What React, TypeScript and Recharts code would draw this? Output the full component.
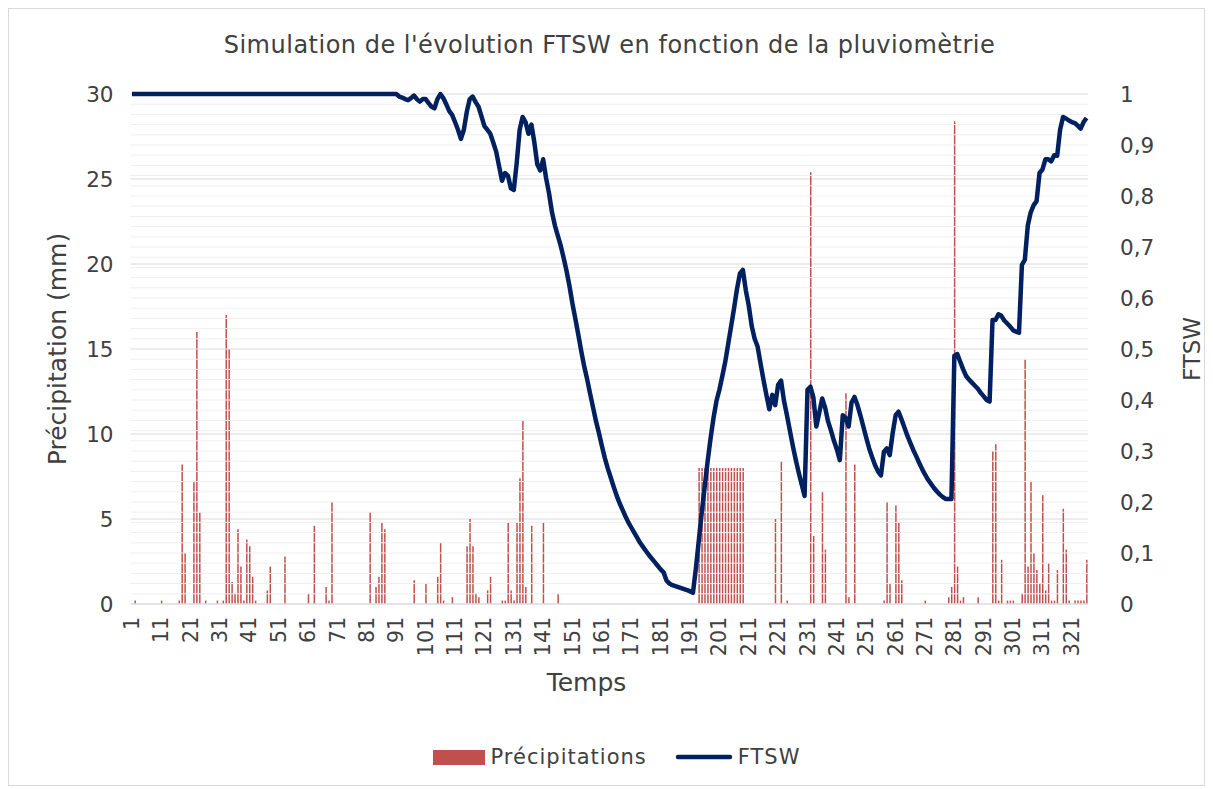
import React from 'react';
import { ComposedChart, Bar, Line, XAxis, YAxis, CartesianGrid, ReferenceLine, Legend, Label } from 'recharts';

const FONT = '"DejaVu Sans", sans-serif';
const TEXT = '#404040';
const RAIN_COLOR = '#C0504D';
const FTSW_COLOR = '#002060';

const N_DAYS = 326;

// days with rain (mm), everything else is 0
const rainDays = [
    2, 11, 17, 18, 19, 22, 23, 24, 26, 30, 32, 33, 34, 35, 36, 37, 38, 39, 40, 41, 42, 43, 47, 48, 53,
    61, 63, 67, 68, 69, 82, 84, 85, 86, 87, 97, 101, 105, 106, 107, 110, 115, 116, 117, 118, 119,
    122, 123, 127, 128, 129, 130, 131, 132, 133, 134, 135, 137, 141, 146,
    194, 195, 196, 197, 198, 199, 200, 201, 202, 203, 204, 205, 206, 207, 208, 209,
    220, 222, 224, 232, 233, 236, 237, 244, 245, 247, 257, 258, 259, 261, 262, 263, 271,
    279, 280, 281, 282, 283, 284, 289, 294, 295, 296, 297, 299, 300, 301, 304, 305, 306, 307,
    308, 309, 310, 311, 312, 313, 314, 315, 316, 318, 319, 320, 322, 323, 324, 325, 326,
];
const rainMm = [
    0.2, 0.2, 0.2, 8.2, 3.0, 7.2, 16.0, 5.4, 0.2, 0.2, 0.2, 17.0, 15.0, 1.3, 0.6, 4.4, 2.2, 0.2, 3.8, 3.4, 1.6, 0.2, 0.8, 2.2, 2.8,
    0.6, 4.6, 1.0, 0.2, 6.0, 5.4, 1.0, 1.6, 4.8, 4.4, 1.4, 1.2, 1.6, 3.6, 0.2, 0.4, 3.4, 5.0, 3.4, 0.6, 0.4,
    0.8, 1.6, 0.2, 0.2, 4.8, 0.8, 0.2, 4.8, 7.4, 10.8, 1.0, 4.6, 4.8, 0.6,
    8, 8, 8, 8, 8, 8, 8, 8, 8, 8, 8, 8, 8, 8, 8, 8,
    5.0, 8.4, 0.2, 25.4, 4.0, 6.6, 3.2, 12.4, 0.4, 8.2, 0.2, 6.0, 1.2, 5.8, 4.8, 1.4, 0.2,
    0.4, 1.0, 28.4, 2.2, 0.2, 0.4, 0.4, 9.0, 9.4, 0.2, 2.6, 0.2, 0.2, 0.2, 0.6, 14.4, 2.2, 7.2,
    3.0, 2.0, 1.2, 6.4, 0.8, 2.4, 0.2, 0.2, 2.0, 5.6, 3.2, 0.2, 0.2, 0.2, 0.2, 0.2, 2.6,
];

// FTSW, one value per day (rows of 10 days)
const ftsw = [
    1, 1, 1, 1, 1, 1, 1, 1, 1, 1,
    1, 1, 1, 1, 1, 1, 1, 1, 1, 1,
    1, 1, 1, 1, 1, 1, 1, 1, 1, 1,
    1, 1, 1, 1, 1, 1, 1, 1, 1, 1,
    1, 1, 1, 1, 1, 1, 1, 1, 1, 1,
    1, 1, 1, 1, 1, 1, 1, 1, 1, 1,
    1, 1, 1, 1, 1, 1, 1, 1, 1, 1,
    1, 1, 1, 1, 1, 1, 1, 1, 1, 1,
    1, 1, 1, 1, 1, 1, 1, 1, 1, 1,
    1, 0.995, 0.993, 0.99, 0.988, 0.992, 0.997, 0.99, 0.985, 0.99,
    0.99, 0.982, 0.975, 0.972, 0.99, 1, 0.992, 0.98, 0.967, 0.959,
    0.945, 0.93, 0.912, 0.93, 0.965, 0.99, 0.995, 0.984, 0.975, 0.956,
    0.937, 0.93, 0.922, 0.905, 0.887, 0.858, 0.83, 0.845, 0.84, 0.815,
    0.812, 0.865, 0.93, 0.955, 0.945, 0.922, 0.94, 0.905, 0.862, 0.85,
    0.872, 0.835, 0.805, 0.768, 0.742, 0.722, 0.702, 0.678, 0.652, 0.622,
    0.588, 0.558, 0.527, 0.495, 0.465, 0.44, 0.412, 0.385, 0.358, 0.335,
    0.31, 0.286, 0.266, 0.248, 0.23, 0.213, 0.198, 0.185, 0.172, 0.16,
    0.15, 0.14, 0.13, 0.12, 0.112, 0.104, 0.096, 0.089, 0.082, 0.075,
    0.068, 0.062, 0.046, 0.04, 0.037, 0.035, 0.033, 0.031, 0.029, 0.027,
    0.025, 0.022, 0.07, 0.125, 0.18, 0.23, 0.28, 0.325, 0.365, 0.398,
    0.42, 0.447, 0.475, 0.51, 0.545, 0.58, 0.618, 0.648, 0.655, 0.615,
    0.585, 0.545, 0.52, 0.505, 0.472, 0.44, 0.41, 0.382, 0.41, 0.39,
    0.43, 0.438, 0.398, 0.37, 0.34, 0.31, 0.283, 0.258, 0.235, 0.212,
    0.42, 0.426, 0.405, 0.348, 0.375, 0.403, 0.385, 0.358, 0.34, 0.32,
    0.303, 0.282, 0.37, 0.365, 0.348, 0.395, 0.406, 0.39, 0.37, 0.348,
    0.326, 0.305, 0.288, 0.272, 0.26, 0.252, 0.298, 0.305, 0.292, 0.335,
    0.37, 0.377, 0.362, 0.346, 0.33, 0.316, 0.302, 0.29, 0.277, 0.265,
    0.254, 0.244, 0.236, 0.228, 0.221, 0.215, 0.21, 0.206, 0.206, 0.206,
    0.487, 0.49, 0.475, 0.46, 0.447, 0.44, 0.434, 0.428, 0.422, 0.414,
    0.407, 0.4, 0.397, 0.557, 0.557, 0.568, 0.565, 0.556, 0.55, 0.544,
    0.537, 0.534, 0.532, 0.665, 0.675, 0.742, 0.768, 0.782, 0.79, 0.845,
    0.852, 0.872, 0.872, 0.868, 0.88, 0.879, 0.93, 0.955, 0.952, 0.948,
    0.945, 0.943, 0.938, 0.932, 0.945, 0.953,
];

const mmTicks = [0, 5, 10, 15, 20, 25, 30];
const ftswTicks = [0, 0.1, 0.2, 0.3, 0.4, 0.5, 0.6, 0.7, 0.8, 0.9, 1];
// light minor grid every 0.02 on the FTSW axis
const ftswMinor = Array.from({ length: 51 }, (_, i) => +(i * 0.02).toFixed(2));

const data = Array.from({ length: N_DAYS }, (_, i) => {
    const day = i + 1;
    const k = rainDays.indexOf(day);
    return { day: String(day), rain: k >= 0 ? rainMm[k] : 0, ftsw: ftsw[i] };
});

const DayTick = (props: any) => {
    const { x, y, payload } = props;
    return (
        <text x={x} y={y} transform={`rotate(-90, ${x}, ${y})`} textAnchor="end" dominantBaseline="central"
            fontSize={20.5} fill={TEXT} fontFamily={FONT}>
            {payload.value}
        </text>
    );
};

const LegendBox = () => (
    <div style={{ display: 'flex', justifyContent: 'center', alignItems: 'center', height: 30, paddingLeft: 20, fontFamily: FONT, fontSize: 21, letterSpacing: 1, color: TEXT }}>
        <span style={{ display: 'inline-block', width: 52, height: 15, background: RAIN_COLOR, marginRight: 6 }} />
        <span style={{ marginRight: 28 }}>Précipitations</span>
        <svg width={58} height={14} style={{ marginRight: 5 }}>
            <line x1={3} y1={7} x2={55} y2={7} stroke={FTSW_COLOR} strokeWidth={4.5} strokeLinecap="round" />
        </svg>
        <span>FTSW</span>
    </div>
);

const App: React.FC = () => {
    return (
        <div style={{ position: 'relative', width: 1197, height: 778, border: '1px solid #d9d9d9', boxSizing: 'border-box', background: '#fff', fontFamily: FONT }}>
            <div style={{ position: 'absolute', top: 22, left: 3, width: '100%', textAlign: 'center', fontSize: 24, letterSpacing: 0.5, color: TEXT }}>
                Simulation de l'évolution FTSW en fonction de la pluviomètrie
            </div>
            <ComposedChart width={1195} height={776} data={data} margin={{ top: 85, right: 10, bottom: 13, left: 10 }} barCategoryGap={0}>
                <CartesianGrid vertical={false} stroke="#d9d9d9" yAxisId="left" />
                {ftswMinor.map((v) => (
                    <ReferenceLine key={v} yAxisId="right" y={v} stroke="#efefef" strokeWidth={1} ifOverflow="visible" />
                ))}
                <XAxis dataKey="day" interval={9} tickLine={false} axisLine={{ stroke: '#d9d9d9' }} height={138}
                    tick={<DayTick />} tickMargin={7}>
                    <Label content={(p: any) => {
                        const { x, y } = p.viewBox;
                        return <text x={x + 456} y={y + 78} textAnchor="middle" dominantBaseline="central" fontSize={25} fill={TEXT} fontFamily={FONT}>Temps</text>;
                    }} />
                </XAxis>
                <YAxis yAxisId="left" domain={[0, 30]} ticks={mmTicks} axisLine={false} tickLine={false} width={111.5}
                    tickMargin={11} tick={{ fontSize: 21.5, fill: TEXT, fontFamily: FONT }}>
                    <Label content={(p: any) => {
                        const { x, y, height } = p.viewBox;
                        const cx = x + 38;
                        const cy = y + height / 2;
                        return <text x={cx} y={cy} transform={`rotate(-90, ${cx}, ${cy})`} textAnchor="middle" dominantBaseline="central" fontSize={25} fill={TEXT} fontFamily={FONT}>Précipitation (mm)</text>;
                    }} />
                </YAxis>
                <YAxis yAxisId="right" orientation="right" domain={[0, 1]} ticks={ftswTicks} axisLine={false} tickLine={false} width={106}
                    tickMargin={26} tickFormatter={(v: number) => String(v).replace('.', ',')}
                    tick={{ fontSize: 21.5, fill: TEXT, fontFamily: FONT, textAnchor: 'start' }}>
                    <Label content={(p: any) => {
                        const { x, y, height } = p.viewBox;
                        const cx = x + 104;
                        const cy = y + height / 2;
                        return <text x={cx} y={cy} transform={`rotate(-90, ${cx}, ${cy})`} textAnchor="middle" dominantBaseline="central" fontSize={23} fill={TEXT} fontFamily={FONT}>FTSW</text>;
                    }} />
                </YAxis>
                <Bar yAxisId="left" dataKey="rain" name="Précipitations" fill={RAIN_COLOR} barSize={1.5} isAnimationActive={false} />
                <Line yAxisId="right" dataKey="ftsw" name="FTSW" type="linear" stroke={FTSW_COLOR} strokeWidth={4.5} dot={false}
                    strokeLinejoin="round" isAnimationActive={false} />
                <Legend verticalAlign="bottom" content={<LegendBox />} wrapperStyle={{ height: 30 }} />
            </ComposedChart>
        </div>
    );
};

export default App;
